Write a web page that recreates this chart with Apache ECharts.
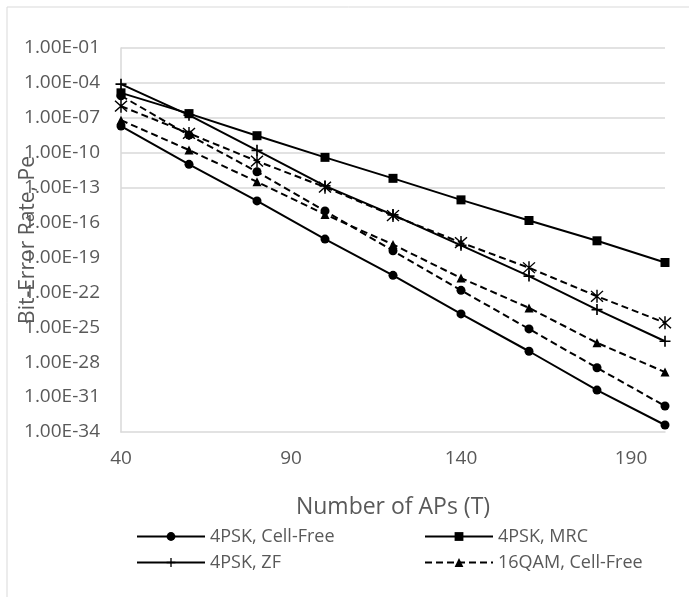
<!DOCTYPE html>
<html><head><meta charset="utf-8">
<script src="https://cdn.jsdelivr.net/npm/echarts@6/dist/echarts.min.js"></script>
<style>html,body{margin:0;padding:0;background:#fff}#c{width:689px;height:597px}</style>
</head><body><div id="c"></div>
<script>
// Number of APs (T)
const apCounts = [40, 60, 80, 100, 120, 140, 160, 180, 200];
// Bit-error rate values
const ber4pskCellFree = [1.95e-8, 1.0e-11, 7.2e-15, 3.8e-18, 2.9e-21, 1.4e-24, 8.7e-28, 4.0e-31, 4.0e-34];
const ber4pskMrc      = [1.4e-5, 2.3e-7, 2.9e-9, 4.0e-11, 6.3e-13, 8.9e-15, 1.5e-16, 2.7e-18, 3.7e-20];
const ber4pskZf       = [7.8e-5, 1.7e-7, 1.6e-10, 1.4e-13, 4.6e-16, 1.1e-18, 2.5e-21, 3.3e-24, 6.3e-27];
const ber16qamCellFree= [6.3e-8, 1.7e-10, 3.2e-13, 5.0e-16, 1.3e-18, 1.7e-21, 4.6e-24, 4.6e-27, 1.4e-29];
const ber16qamZf      = [7.9e-6, 3.3e-9, 2.3e-12, 1.0e-15, 3.7e-19, 1.5e-22, 7.2e-26, 3.3e-29, 1.7e-32];
const ber16qamMrc     = [1.0e-6, 4.6e-9, 1.9e-11, 1.1e-13, 4.0e-16, 1.9e-18, 1.3e-20, 4.6e-23, 2.4e-25];
const legendCol1 = ['4PSK, Cell-Free', '4PSK, ZF'];
const legendCol2 = ['4PSK, MRC', '16QAM, Cell-Free'];

const FONT = 'Open Sans';
const GRAY = '#595959';
const PLUS = 'path://M8.5,0L11.5,0L11.5,8.5L20,8.5L20,11.5L11.5,11.5L11.5,20L8.5,20L8.5,11.5L0,11.5L0,8.5L8.5,8.5Z';
const STAR = 'path://M9,0L11,0L11,20L9,20Z M1,2.4L2.4,1L19,17.6L17.6,19Z M17.6,1L19,2.4L2.4,19L1,17.6Z';

function mk(name, values, symbol, size, dashed) {
  return {
    type: 'line', name: name,
    data: apCounts.map((t, i) => [t, Math.log10(values[i])]),
    symbol: symbol, symbolSize: size, showSymbol: true,
    lineStyle: { color: '#000', width: 2, type: dashed ? [7, 4] : 'solid' },
    itemStyle: { color: '#000', borderWidth: 0 },
    emphasis: { disabled: true },
    animation: false
  };
}

const chart = echarts.init(document.getElementById('c'));
const legendBase = {
  orient: 'vertical', top: 521, itemWidth: 68, itemHeight: 11, itemGap: 5,
  textStyle: { fontFamily: FONT, fontSize: 18, color: GRAY, lineHeight: 21 }
};
chart.setOption({
  animation: false,
  backgroundColor: '#fff',
  graphic: [{ type: 'rect', shape: { x: 7, y: 7, width: 800, height: 800 }, style: { fill: 'none', stroke: '#d9d9d9', lineWidth: 1 }, silent: true }],
  grid: { left: 121, right: 24, top: 48, bottom: 165, containLabel: false, outerBoundsMode: 'none' },
  xAxis: {
    type: 'value', min: 40, max: 200, interval: 50,
    axisLine: { show: true, lineStyle: { color: '#d9d9d9', width: 1.5 } },
    axisTick: { show: false },
    splitLine: { show: false },
    axisLabel: { showMaxLabel: false, margin: 17, fontFamily: FONT, fontSize: 19, color: GRAY },
    name: 'Number of APs (T)', nameLocation: 'middle', nameGap: 64, nameMoveOverlap: false,
    nameTextStyle: { fontFamily: FONT, fontSize: 23, color: GRAY }
  },
  yAxis: {
    type: 'value', min: -34, max: -1, interval: 3,
    axisLine: { show: true, lineStyle: { color: '#d9d9d9', width: 1.5 } },
    axisTick: { show: false },
    splitLine: { show: true, lineStyle: { width: 1.5, color: ['rgba(0,0,0,0)','rgba(0,0,0,0)','rgba(0,0,0,0)','rgba(0,0,0,0)','rgba(0,0,0,0)','rgba(0,0,0,0)','rgba(0,0,0,0)','#d9d9d9','#d9d9d9','#d9d9d9','#d9d9d9','#d9d9d9'] } },
    axisLabel: {
      margin: 21, fontFamily: FONT, fontSize: 19, color: GRAY,
      formatter: v => { const e = Math.round(-v); return '1.00E-' + (e < 10 ? '0' + e : '' + e); }
    },
    name: 'Bit-Error Rate, Pe', nameLocation: 'middle', nameGap: 82, nameMoveOverlap: false,
    nameTextStyle: { fontFamily: FONT, fontSize: 21, color: GRAY }
  },
  legend: [
    Object.assign({}, legendBase, { left: 131, data: legendCol1 }),
    Object.assign({}, legendBase, { left: 419, data: legendCol2 })
  ],
  series: [
    mk('4PSK, Cell-Free', ber4pskCellFree, 'circle', 9, false),
    mk('4PSK, MRC', ber4pskMrc, 'rect', 9, false),
    mk('4PSK, ZF', ber4pskZf, PLUS, 11, false),
    mk('16QAM, Cell-Free', ber16qamCellFree, 'triangle', 9, true),
    mk('16QAM, ZF', ber16qamZf, 'circle', 9, true),
    mk('16QAM, MRC', ber16qamMrc, STAR, 13, true)
  ]
});
</script></body></html>
